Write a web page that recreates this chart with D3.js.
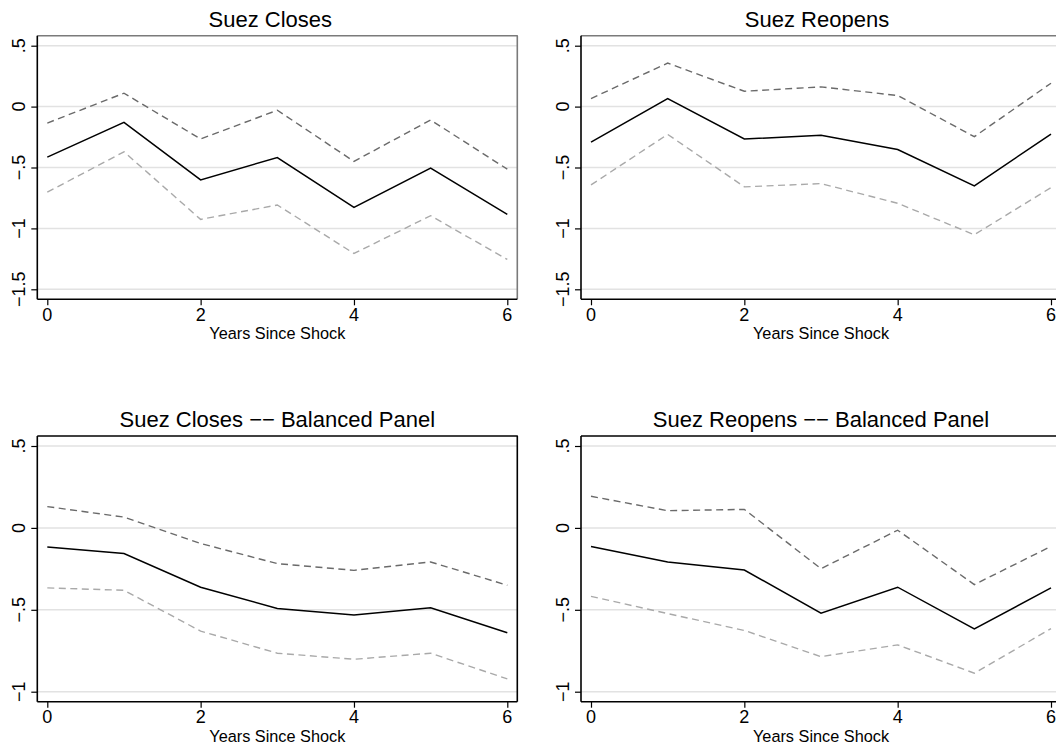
<!DOCTYPE html>
<html>
<head>
<meta charset="utf-8">
<script src="https://cdn.jsdelivr.net/npm/d3@7"></script>
<style>
  html, body { margin: 0; padding: 0; background: #fff; }
  svg { display: block; }
  .lbl { font-family: "Liberation Sans", Arial, Helvetica, sans-serif; fill: #000; }
</style>
</head>
<body>
<svg id="chart" width="1056" height="746"></svg>
<script>
// ---------------- data ----------------
const years = [0, 1, 2, 3, 4, 5, 6];

const closesEst   = [-0.415, -0.129, -0.602, -0.418, -0.827, -0.505, -0.885];
const closesUpper = [-0.135,  0.110, -0.266, -0.030, -0.450, -0.110, -0.514];
const closesLower = [-0.703, -0.371, -0.926, -0.808, -1.206, -0.896, -1.255];

const reopensEst   = [-0.291,  0.066, -0.266, -0.236, -0.352, -0.651, -0.225];
const reopensUpper = [ 0.066,  0.357,  0.126,  0.162,  0.091, -0.247,  0.192];
const reopensLower = [-0.643, -0.228, -0.659, -0.632, -0.794, -1.052, -0.665];

const closesBalEst   = [-0.117, -0.156, -0.362, -0.492, -0.531, -0.488, -0.640];
const closesBalUpper = [ 0.130,  0.066, -0.095, -0.218, -0.259, -0.208, -0.350];
const closesBalLower = [-0.366, -0.381, -0.630, -0.765, -0.802, -0.765, -0.922];

const reopensBalEst   = [-0.113, -0.208, -0.257, -0.521, -0.362, -0.617, -0.366];
const reopensBalUpper = [ 0.193,  0.105,  0.113, -0.249, -0.014, -0.346, -0.113];
const reopensBalLower = [-0.418, -0.523, -0.626, -0.786, -0.714, -0.887, -0.615];

const panelTitles = ["Suez Closes", "Suez Reopens",
                     "Suez Closes \u2212\u2212 Balanced Panel", "Suez Reopens \u2212\u2212 Balanced Panel"];
const xAxisTitle = "Years Since Shock";
const xTicks = [0, 2, 4, 6];
const xTickLabels = ["0", "2", "4", "6"];
const yTicksFull = [-1.5, -1, -0.5, 0, 0.5];
const yTickLabelsFull = ["\u22121.5", "\u22121", "\u2212.5", "0", ".5"];
const yTicksBal = [-1, -0.5, 0, 0.5];
const yTickLabelsBal = ["\u22121", "\u2212.5", "0", ".5"];

// ---------------- layout ----------------
const svg = d3.select("#chart");
const PAD = 10;
const TICKFS = 18;

const panels = [
  { title: panelTitles[0], est: closesEst, up: closesUpper, lo: closesLower,
    left: 37.3, top: 35.7, bottom: 299.3, yTicks: yTicksFull, yLabels: yTickLabelsFull,
    topColor: "#7a7a7a", titleDx: -7 },
  { title: panelTitles[1], est: reopensEst, up: reopensUpper, lo: reopensLower,
    left: 581, top: 35.7, bottom: 299.3, yTicks: yTicksFull, yLabels: yTickLabelsFull,
    topColor: "#7a7a7a", titleDx: -4 },
  { title: panelTitles[2], est: closesBalEst, up: closesBalUpper, lo: closesBalLower,
    left: 37.3, top: 436, bottom: 701.7, yTicks: yTicksBal, yLabels: yTickLabelsBal,
    topColor: "#000", titleDx: 0 },
  { title: panelTitles[3], est: reopensBalEst, up: reopensBalUpper, lo: reopensBalLower,
    left: 581, top: 436, bottom: 701.7, yTicks: yTicksBal, yLabels: yTickLabelsBal,
    topColor: "#000", titleDx: 0 }
];
const PW = 480;

panels.forEach(p => {
  const right = p.left + PW;
  const yMin = d3.min(p.yTicks), yMax = d3.max(p.yTicks);
  const x = d3.scaleLinear().domain([0, 6]).range([p.left + PAD, right - PAD]);
  const y = d3.scaleLinear().domain([yMin, yMax]).range([p.bottom - PAD, p.top + PAD]);
  const g = svg.append("g");

  // gridlines
  g.selectAll("line.grid").data(p.yTicks).join("line")
    .attr("x1", p.left).attr("x2", right)
    .attr("y1", d => y(d)).attr("y2", d => y(d))
    .attr("stroke", "#e2e2e2").attr("stroke-width", 1.5);

  // frame top/right
  g.append("line").attr("x1", p.left).attr("x2", right + 0.5)
    .attr("y1", p.top).attr("y2", p.top)
    .attr("stroke", p.topColor).attr("stroke-width", 1.6);
  g.append("line").attr("x1", right).attr("x2", right)
    .attr("y1", p.top).attr("y2", p.bottom)
    .attr("stroke", p.topColor).attr("stroke-width", 1.6);

  // series
  const line = d3.line().x((d, i) => x(years[i])).y(d => y(d));
  g.append("path").datum(p.lo).attr("d", line).attr("fill", "none")
    .attr("stroke", "#a9a9a9").attr("stroke-width", 1.4).attr("stroke-dasharray", "7,4.5");
  g.append("path").datum(p.up).attr("d", line).attr("fill", "none")
    .attr("stroke", "#6a6a6a").attr("stroke-width", 1.4).attr("stroke-dasharray", "7,4.5");
  g.append("path").datum(p.est).attr("d", line).attr("fill", "none")
    .attr("stroke", "#000").attr("stroke-width", 1.5);

  // y axis
  const yAxis = d3.axisLeft(y).tickValues(p.yTicks).tickSize(6).tickFormat("");
  const ya = g.append("g").attr("transform", `translate(${p.left},0)`).call(yAxis);
  ya.select(".domain").attr("d", `M0,${p.top}V${p.bottom}`).attr("stroke", "#000").attr("stroke-width", 1.6);
  ya.selectAll(".tick line").attr("stroke", "#000").attr("stroke-width", 1.2);
  g.selectAll("text.ylab").data(p.yTicks).join("text")
    .attr("class", "lbl ylab")
    .attr("font-size", TICKFS)
    .attr("text-anchor", "middle")
    .attr("transform", d => `translate(${p.left - 12.5},${y(d)}) rotate(-90)`)
    .text((d, i) => p.yLabels[i]);

  // x axis
  const xAxis = d3.axisBottom(x).tickValues(xTicks).tickSize(6).tickFormat("");
  const xa = g.append("g").attr("transform", `translate(0,${p.bottom})`).call(xAxis);
  xa.select(".domain").attr("d", `M${p.left},0H${right}`).attr("stroke", "#000").attr("stroke-width", 1.6);
  xa.selectAll(".tick line").attr("stroke", "#000").attr("stroke-width", 1.2);
  g.selectAll("text.xlab").data(xTicks).join("text")
    .attr("class", "lbl xlab")
    .attr("font-size", TICKFS)
    .attr("text-anchor", "middle")
    .attr("x", d => x(d)).attr("y", p.bottom + 21.5)
    .text((d, i) => xTickLabels[i]);

  // x title
  g.append("text").attr("class", "lbl").attr("x", (p.left + right) / 2).attr("y", p.bottom + 40)
    .attr("text-anchor", "middle").attr("font-size", 16.3).text(xAxisTitle);

  // panel title
  g.append("text").attr("class", "lbl").attr("x", (p.left + right) / 2 + p.titleDx).attr("y", p.top - 9)
    .attr("text-anchor", "middle").attr("font-size", 22).text(p.title);
});
</script>
</body>
</html>
